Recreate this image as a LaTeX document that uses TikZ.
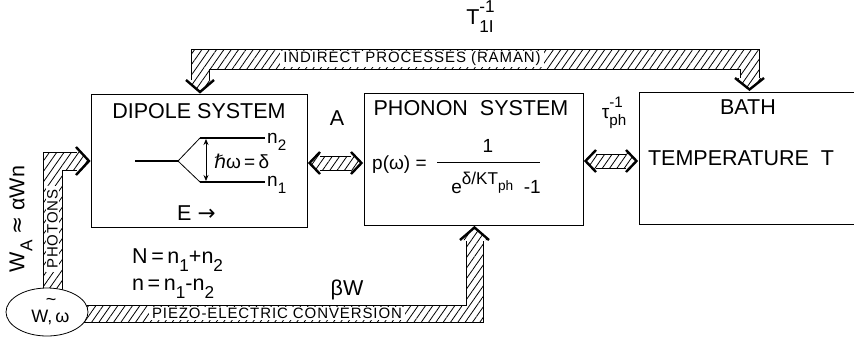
\documentclass[tikz,border=0pt]{standalone}
\usepackage{fontspec}
\setmainfont{Liberation Sans}
\newfontfamily\dvs{DejaVu Sans}
\newfontfamily\lblfont[LetterSpace=6]{Liberation Sans}
\usetikzlibrary{patterns.meta,shapes.geometric,arrows.meta}
\newcommand\supx[1]{\raisebox{0.55em}{\scalebox{0.8}{#1}}}
\newcommand\subx[1]{\raisebox{-0.38em}{\scalebox{0.8}{#1}}}
\tikzset{
  box/.style={draw, line width=0.8pt, anchor=north west, inner sep=0pt},
  hatch/.style={pattern={Lines[angle=55,distance=6pt,line width=0.8pt]}},
  edge/.style={line width=0.8pt},
  head/.style={line width=2.4pt, line join=miter},
  big/.style={font=\fontsize{21.5}{24}\selectfont, inner sep=1pt},
  mid/.style={font=\fontsize{19}{22}\selectfont, inner sep=1pt},
  lbl/.style={font=\lblfont\fontsize{15}{18}\selectfont, fill=white, inner xsep=3pt, inner ysep=1pt},
  level/.style={line width=1.4pt},
}
\begin{document}
\begin{tikzpicture}[x=1pt,y=-1pt]
\useasboundingbox (0,0) rectangle (854,338);

% boxes
\node[box, minimum width=216pt, minimum height=133pt] (dip) at (91,94) {};
\node[box, minimum width=219pt, minimum height=132pt] (pho) at (364,93) {};
\node[anchor=north west, inner sep=0pt, minimum width=216pt, minimum height=132pt] (bath) at (639,92) {};
\draw[edge] (bath.north east) -- (bath.north west) -- (bath.south west) -- (bath.south east);

% titles
\node[big] (dipT) at (199,111) {DIPOLE SYSTEM};
\node[big] (phoT) at (471,108) {PHONON\ \ SYSTEM};
\node[big] (bathT) at (748,107) {BATH};
\node[big] (temp) at (741,158) {TEMPERATURE\ \ T};

% energy levels
\coordinate (g) at (135,161);
\coordinate (s) at (178,161);
\coordinate (u1) at (200,138);
\coordinate (u2) at (265,138);
\coordinate (l1) at (200,182);
\coordinate (l2) at (265,182);
\coordinate (a1) at (206,139);
\coordinate (a2) at (206,181);
\draw[level] (g) -- (s);
\draw[edge] (u1) -- (s) -- (l1);
\draw[level] (u1) -- (u2);
\draw[level] (l1) -- (l2);
\draw[edge, {Stealth[length=6pt,width=5pt]}-{Stealth[length=6pt,width=5pt]}] (a1) -- (a2);
\node[mid, anchor=west] (hw) at (213,161) {{\dvs ℏ}ω\,=\,δ};
\node[mid, anchor=base west] (n2) at (266,143) {n\subx{2}};
\node[mid, anchor=base west] (n1) at (266,186) {n\subx{1}};
\node[big, anchor=west] (E) at (176,213) {E {\dvs →}};

% phonon formula
\node[mid, anchor=west] (p) at (371,165) {p(ω) =};
\coordinate (fb1) at (437,162);
\coordinate (fb2) at (540,162);
\draw[edge] (fb1) -- (fb2);
\node[mid] (num) at (488,146) {1};
\node[mid] (den) at (496,183) {e\raisebox{0.5em}{\scalebox{0.9}{δ/KT\subx{ph}}}\ \ -1};

% labels
\node[big] (A) at (337,118) {A};
\node[mid] (tau) at (614,113) {τ\rlap{\supx{-1}}\subx{ph}};
\node[big] (T1) at (480,17) {T\rlap{\supx{-1}}\subx{1I}};
\node[big, anchor=base west] (Neq) at (131,263) {N\,=\,n\subx{1}+n\subx{2}};
\node[big, anchor=base west] (neq) at (131,290) {n\,=\,n\subx{1}-n\subx{2}};
\node[big] (bW) at (347,290) {βW};
\node[big, rotate=90] (wa) at (21,219) {W\subx{A} {\dvs≈} αWn};

% top band (indirect processes)
\path[hatch] (209,80) -- (209,69) -- (740,69) -- (740,78) -- (735,78) -- (749.5,91) -- (764,78) -- (759,78) -- (759,49) -- (191,49) -- (191,80) -- (186,80) -- (200,93) -- (214,80) -- cycle;
\draw[edge] (191,80) -- (191,49) -- (759,49) -- (759,78);
\draw[edge] (209,80) -- (209,69) -- (740,69) -- (740,78);
\draw[head] (186,80) -- (200,92) -- (214,80);
\draw[head] (735,78) -- (749.5,89.5) -- (764,78);
\node[lbl] (ind) at (412,59) {INDIRECT PROCESSES (RAMAN)};

% double arrow dipole-phonon
\path[hatch] (309,163) -- (320,152) -- (320,156) -- (351,156) -- (351,152) -- (362,163) -- (351,174) -- (351,170) -- (320,170) -- (320,174) -- cycle;
\draw[edge] (320,156) -- (351,156) (320,170) -- (351,170);
\draw[head] (320,152) -- (309.5,163) -- (320,174);
\draw[head] (351,152) -- (361.5,163) -- (351,174);

% double arrow phonon-bath
\path[hatch] (585,161) -- (596,150) -- (596,154) -- (626,154) -- (626,150) -- (637,161) -- (626,172) -- (626,168) -- (596,168) -- (596,172) -- cycle;
\draw[edge] (596,154) -- (626,154) (596,168) -- (626,168);
\draw[head] (596,150) -- (585.5,161) -- (596,172);
\draw[head] (626,150) -- (636.5,161) -- (626,172);

% photons band
\path[hatch] (43,300) -- (43,152) -- (77,152) -- (77,147) -- (90,161) -- (77,175) -- (77,170) -- (62,170) -- (62,300) -- cycle;
\draw[edge] (43,300) -- (43,152) -- (77,152);
\draw[edge] (62,300) -- (62,170) -- (77,170);
\draw[head] (76,147) -- (89,161) -- (76,175);
\node[lbl, rotate=90] (phot) at (52.5,229) {PHOTONS};

% piezo-electric band
\path[hatch] (80,305) -- (466,305) -- (466,240) -- (460,240) -- (474.5,226) -- (489,240) -- (483,240) -- (483,322) -- (80,322) -- cycle;
\draw[edge] (80,305) -- (466,305) -- (466,241);
\draw[edge] (80,322) -- (483,322) -- (483,241);
\draw[head] (460,240) -- (474.5,227.5) -- (489,240);
\node[lbl] (pz) at (277,313.5) {PIEZO-ELECTRIC CONVERSION};

% source
\node[draw, ellipse, fill=white, edge, minimum width=82pt, minimum height=48pt, inner sep=0pt, font=\fontsize{18}{20}\selectfont] (src) at (47,312) {\hspace*{7pt}\makebox[0pt][l]{\hspace{0.8em}\raisebox{0.95em}{\textasciitilde}}W,\,ω};
\end{tikzpicture}
\end{document}
